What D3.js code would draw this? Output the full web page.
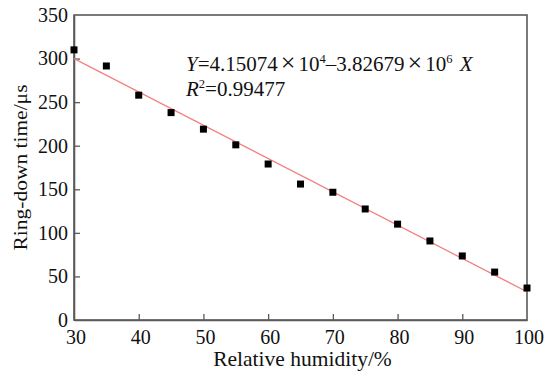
<!DOCTYPE html>
<html>
<head>
<meta charset="utf-8">
<script src="https://cdn.jsdelivr.net/npm/d3@7"></script>
<style>
  html, body { margin: 0; padding: 0; background: #fff; }
  svg { display: block; }
  text { font-family: "Liberation Serif", "Times New Roman", serif; fill: #111; }
</style>
</head>
<body>
<svg id="chart" width="552" height="372"></svg>
<script>
// Relative humidity (%) and measured ring-down time (µs)
const humidity = [30, 35, 40, 45, 50, 55, 60, 65, 70, 75, 80, 85, 90, 95, 100];
const ringDown = [310, 291.5, 258, 238, 219, 201, 179, 156, 146.6, 127.4, 110, 90.7, 73.5, 55, 36.7];

const xTicks = [30, 40, 50, 60, 70, 80, 90, 100];
const yTicks = [0, 50, 100, 150, 200, 250, 300, 350];

const margin = { left: 74, right: 25, top: 15, bottom: 52 };
const W = 552, H = 372;
const serif = "Liberation Serif, Times New Roman, serif";

const svg = d3.select("#chart");
const x = d3.scaleLinear().domain([30, 100]).range([margin.left, W - margin.right]);
const y = d3.scaleLinear().domain([0, 350]).range([H - margin.bottom, margin.top]);

// least-squares fit through the measured points
const mx = d3.mean(humidity), my = d3.mean(ringDown);
const slope = d3.sum(humidity, (h, i) => (h - mx) * (ringDown[i] - my)) /
              d3.sum(humidity, h => (h - mx) ** 2);
const intercept = my - slope * mx;
const fitLine = [30, 100].map(h => [h, intercept + slope * h]);

const axisColor = "#5a5a5a";

// frame
svg.append("rect")
  .attr("x", x(30)).attr("y", y(350))
  .attr("width", x(100) - x(30)).attr("height", y(0) - y(350))
  .attr("fill", "none").attr("stroke", axisColor).attr("stroke-width", 1.6);

// x axis (ticks point inward)
const xAxis = svg.append("g")
  .attr("transform", `translate(0,${y(0)})`)
  .call(d3.axisBottom(x).tickValues(xTicks).tickSizeInner(-6).tickSizeOuter(0).tickPadding(10));
xAxis.select(".domain").attr("stroke", axisColor).attr("stroke-width", 1.6);
xAxis.selectAll(".tick line").attr("stroke", axisColor).attr("stroke-width", 1.3)
  .filter(d => d === 30 || d === 100).remove();
xAxis.selectAll(".tick text").attr("font-size", 20).attr("fill", "#111")
  .attr("font-family", serif).attr("dx", 1.5);

// y axis (ticks point inward)
const yAxis = svg.append("g")
  .attr("transform", `translate(${x(30)},0)`)
  .call(d3.axisLeft(y).tickValues(yTicks).tickSizeInner(-6).tickSizeOuter(0).tickPadding(6));
yAxis.select(".domain").attr("stroke", axisColor).attr("stroke-width", 1.6);
yAxis.selectAll(".tick line").attr("stroke", axisColor).attr("stroke-width", 1.3)
  .filter(d => d === 0 || d === 350).remove();
yAxis.selectAll(".tick text").attr("font-size", 20).attr("fill", "#111")
  .attr("font-family", serif);

// fitted line
svg.append("path")
  .datum(fitLine)
  .attr("d", d3.line().x(d => x(d[0])).y(d => y(d[1])))
  .attr("fill", "none").attr("stroke", "#f28080").attr("stroke-width", 1.3);

// data markers
const s = 7;
svg.append("g").selectAll("rect")
  .data(humidity.map((h, i) => [h, ringDown[i]]))
  .join("rect")
  .attr("x", d => x(d[0]) - s / 2).attr("y", d => y(d[1]) - s / 2)
  .attr("width", s).attr("height", s).attr("fill", "#000");

// axis titles
svg.append("text")
  .attr("x", (x(30) + x(100)) / 2 + 2).attr("y", 366)
  .attr("text-anchor", "middle").attr("font-size", 21.5)
  .text("Relative humidity/%");

svg.append("text")
  .attr("transform", `translate(27,${(y(0) + y(350)) / 2}) rotate(-90)`)
  .attr("text-anchor", "middle").attr("font-size", 19)
  .attr("textLength", 166).attr("lengthAdjust", "spacingAndGlyphs")
  .text("Ring-down time/μs");

// regression equation
const fs = 21;
const eq = svg.append("text").attr("x", 186).attr("y", 71).attr("font-size", fs);
const times = parent => parent.append("tspan").attr("font-size", 26).attr("dx", 3).text("×");
eq.append("tspan").attr("font-style", "italic").text("Y");
eq.append("tspan").text("=4.15074");
times(eq);
eq.append("tspan").attr("font-size", fs).attr("dx", 3).text("10");
eq.append("tspan").attr("font-size", 12.5).attr("dy", -8).text("4");
eq.append("tspan").attr("font-size", fs).attr("dy", 8).text("–3.82679");
times(eq);
eq.append("tspan").attr("font-size", fs).attr("dx", 3).text("10");
eq.append("tspan").attr("font-size", 12.5).attr("dy", -8).text("6");
eq.append("tspan").attr("font-size", fs).attr("dy", 8).attr("dx", 2).text("\u00a0");
eq.append("tspan").attr("font-style", "italic").text("X");

const r2 = svg.append("text").attr("x", 186).attr("y", 95.5).attr("font-size", fs);
r2.append("tspan").attr("font-style", "italic").text("R");
r2.append("tspan").attr("font-size", 12.5).attr("dy", -8).text("2");
r2.append("tspan").attr("dy", 8).text("=0.99477");
</script>
</body>
</html>
